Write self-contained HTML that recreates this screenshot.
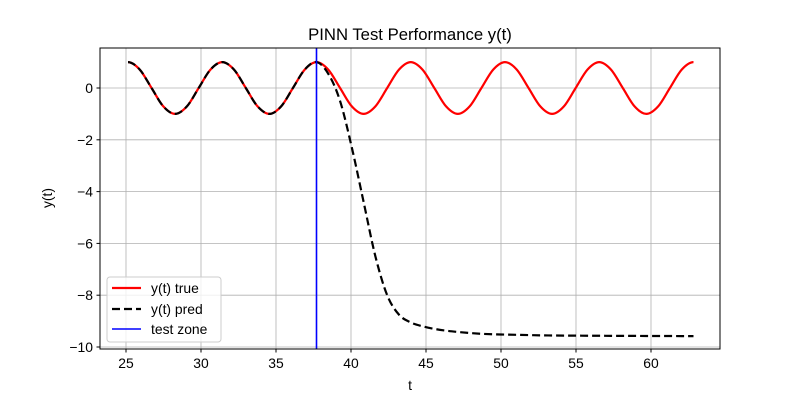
<!DOCTYPE html>
<html><head><meta charset="utf-8"><style>
body{margin:0;background:#fff}
svg{display:block;font-family:"Liberation Sans","DejaVu Sans",sans-serif}
</style></head><body>
<svg id="chart" width="800" height="400" viewBox="0 0 800 400">
<rect width="800" height="400" fill="#fff"/>
<g id="grid"></g>
<g id="series"></g>
<rect x="100" y="48" width="620" height="301" fill="none" stroke="#000" stroke-width="1"/>
<g id="ticks"></g>
<text x="410" y="40" font-size="16.7" text-anchor="middle">PINN Test Performance y(t)</text>
<text x="410" y="390" font-size="13.9" text-anchor="middle">t</text>
<text x="52" y="198" font-size="13.9" text-anchor="middle" transform="rotate(-90 52 198)">y(t)</text>
<g>
<rect x="107" y="277" width="114" height="65" rx="3" fill="#fff" fill-opacity="0.8" stroke="#ccc"/>
<line x1="112" y1="288" x2="141" y2="288" stroke="#f00" stroke-width="2.2"/>
<text x="151" y="293" font-size="13.9">y(t) true</text>
<line x1="112" y1="309" x2="141" y2="309" stroke="#000" stroke-width="2.2" stroke-dasharray="8,4"/>
<text x="151" y="314" font-size="13.9">y(t) pred</text>
<line x1="112" y1="329" x2="141" y2="329" stroke="#00f" stroke-width="1.6"/>
<text x="151" y="334" font-size="13.9">test zone</text>
</g>
</svg>
<script>
const xTicks=[25,30,35,40,45,50,55,60];
const yTicks=[0,-2,-4,-6,-8,-10];
const yTickLabels=["0","\u22122","\u22124","\u22126","\u22128","\u221210"];
const tStart=25.133, tStep=0.7854;
const trueVals=[1,.71,0,-.71,-1,-.71,0,.71,1,.71,0,-.71,-1,-.71,0,.71,1,.71,0,-.71,-1,-.71,0,.71,1,.71,0,-.71,-1,-.71,0,.71,1,.71,0,-.71,-1,-.71,0,.71,1,.71,0,-.71,-1,-.71,0,.71,1];
const predVals=[1,.71,0,-.71,-1,-.71,0,.71,1,.71,0,-.71,-1,-.71,0,.71,1,.55,-.5,-2.3,-4.4,-6.5,-8.0,-8.75,-9.05,-9.2,-9.3,-9.37,-9.42,-9.46,-9.49,-9.51,-9.52,-9.53,-9.54,-9.55,-9.555,-9.56,-9.56,-9.565,-9.565,-9.57,-9.57,-9.57,-9.575,-9.575,-9.575,-9.58,-9.58];
const testZone=37.7;
const X=t=>126+(t-25)*15;
const Y=v=>88-v*25.9;
const NS="http://www.w3.org/2000/svg";
function mk(tag,attrs,parent){const e=document.createElementNS(NS,tag);for(const k in attrs)e.setAttribute(k,attrs[k]);parent.appendChild(e);return e;}
const grid=document.getElementById('grid'),ticks=document.getElementById('ticks'),series=document.getElementById('series');
xTicks.forEach(t=>{
 const g=mk('line',{x1:X(t),x2:X(t),y1:48,y2:349,stroke:'#b0b0b0','stroke-width':0.8},grid);
 
 
 const tk=mk('line',{x1:X(t),x2:X(t),y1:349,y2:352.5,stroke:'#000'},ticks);
 
 
 const tx=mk('text',{x:X(t),y:368,'font-size':13.9,'text-anchor':'middle'},ticks);tx.textContent=t;
 
 
});
yTicks.forEach((v,i)=>{
 const g=mk('line',{x1:100,x2:720,y1:Y(v),y2:Y(v),stroke:'#b0b0b0','stroke-width':0.8},grid);
 
 
 const tk=mk('line',{x1:96.5,x2:100,y1:Y(v),y2:Y(v),stroke:'#000'},ticks);
 
 
 const tx=mk('text',{x:93,y:Y(v)+5,'font-size':13.9,'text-anchor':'end'},ticks);tx.textContent=yTickLabels[i];
 
 
});
function pathFor(vals){
 const p=vals.map((v,i)=>[X(tStart+i*tStep),Y(v)]);
 const n=p.length;
 const pre=[X(tStart-tStep),p[1][1]];
 const post=[X(tStart+n*tStep),p[n-2][1]];
 let d='M'+p[0][0]+','+p[0][1];
 for(let i=0;i<n-1;i++){
  const p0=i>0?p[i-1]:pre,p1=p[i],p2=p[i+1],p3=i+2<n?p[i+2]:post;
  const c1=[p1[0]+(p2[0]-p0[0])/6,p1[1]+(p2[1]-p0[1])/6];
  const c2=[p2[0]-(p3[0]-p1[0])/6,p2[1]-(p3[1]-p1[1])/6];
  d+=' C'+c1+' '+c2+' '+p2;
 }
 return d;
}
const tl=mk('path',{d:pathFor(trueVals),fill:'none',stroke:'#f00','stroke-width':2.2},series);


const pl=mk('path',{d:pathFor(predVals),fill:'none',stroke:'#000','stroke-width':2.2,'stroke-dasharray':'8,4'},series);


const vl=mk('line',{x1:X(testZone),x2:X(testZone),y1:48,y2:349,stroke:'#00f','stroke-width':1.6},series);


</script>
</body></html>
